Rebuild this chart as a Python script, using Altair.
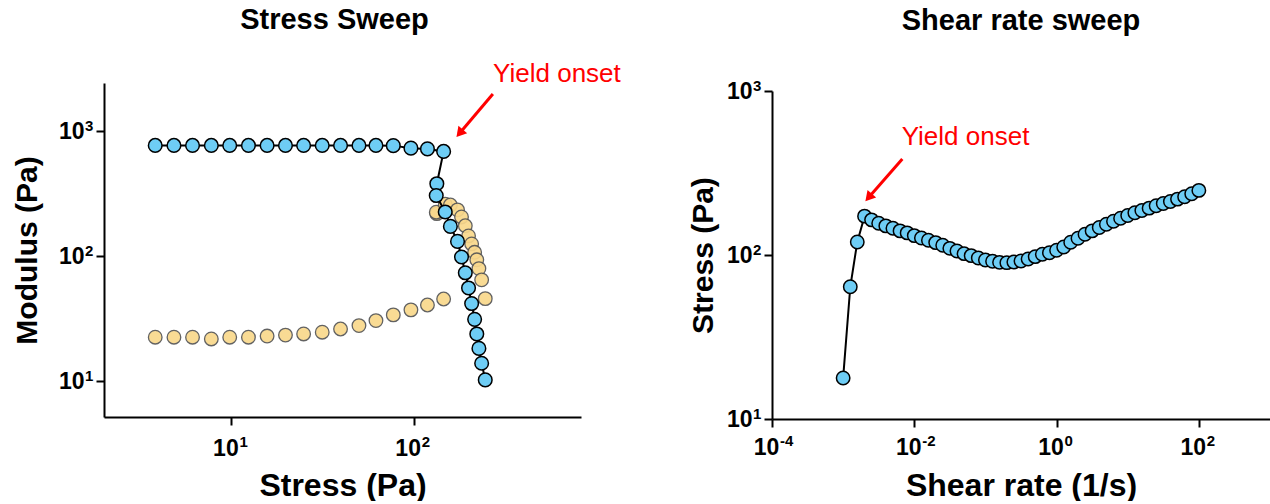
import altair as alt
import pandas as pd

FONT = "Liberation Sans"
BLUE = "#6ECDF5"
TAN = "#F9D88C"
RED = "#FF0000"

# ---------------- Stress sweep (oscillatory) ----------------
osc_stress = [3.82, 4.84, 6.12, 7.76, 9.79, 12.4, 15.7, 19.8, 24.9, 31.5, 39.7,
              50.1, 62.1, 77.3, 96.6, 119, 146,
              134, 133, 149, 159, 174, 183, 192, 200, 208, 216, 222, 228, 236, 247]
g_storage = [773, 773, 773, 773, 773, 773, 773, 773, 773, 773, 773, 773, 773, 770,
             735, 725, 692,
             382, 307, 227, 174, 132, 99, 74, 56, 42, 31.4, 24, 18.4, 14, 10.3]
g_loss = [22.6, 22.6, 22.6, 21.9, 22.6, 22.6, 23.1, 23.5, 24.0, 24.8, 26.3,
          28.0, 30.7, 34.1, 37.4, 40.9, 45.7,
          220, 226, 262, 258, 236, 207, 176, 146, 126, 108, 94, 80, 65, 46]

# ---------------- Shear rate sweep ----------------
shear_rate = [0.001, 0.00126, 0.00158, 0.002, 0.00251, 0.00316, 0.00398, 0.00501,
              0.00631, 0.00794, 0.01, 0.0126, 0.0158, 0.02, 0.0251, 0.0316, 0.0398,
              0.0501, 0.0631, 0.0794, 0.1, 0.126, 0.158, 0.2, 0.251, 0.316, 0.398,
              0.501, 0.631, 0.794, 1, 1.26, 1.58, 2, 2.51, 3.16, 3.98, 5.01, 6.31,
              7.94, 10, 12.6, 15.8, 20, 25.1, 31.6, 39.8, 50.1, 63.1, 79.4, 100]
shear_stress = [17.8, 64, 120, 172.6, 163.8, 156.3, 150.5, 145.6, 140.3, 136.4,
                131.3, 127.1, 122.9, 119.0, 114.6, 109.8, 105.8, 101.9, 99.1, 95.9,
                93.2, 91.5, 90.2, 89.8, 90.6, 91.9, 94.5, 97.7, 101.0, 103.3, 106.8,
                111.9, 119.6, 126.5, 133.8, 140.3, 147.0, 154.1, 160.7, 167.7, 174.1,
                180.8, 186.8, 193.1, 199.5, 206.2, 212.1, 219.2, 226.5, 236.3, 247.7]

# ---------------- Tick labels (10^n) ----------------
left_x_ticks = [10, 100]
left_x_exps = ["1", "2"]
left_y_ticks = [10, 100, 1000]
left_y_exps = ["1", "2", "3"]
right_x_ticks = [0.0001, 0.01, 1, 100]
right_x_exps = ["-4", "-2", "0", "2"]
right_y_ticks = [10, 100, 1000]
right_y_exps = ["1", "2", "3"]

# ---------------- Annotations (data coordinates) ----------------
ann_text = ["Yield onset"]
left_text_pos = [611, 2884]
left_arrow_tail = [272, 1995]
left_arrow_head = [178.7, 966]
right_text_pos = [0.0525, 526]
right_arrow_tail = [0.00679, 385]
right_arrow_head = [0.00228, 224]

LW, LH = 477, 334
RW, RH = 498, 336
R_TOP = 8          # right y-axis starts a little lower than the left one
TICK = 8
LBL = 23
EXP = 15
Y_LBL_PAD = 12
X_SHIFT = -6


def axis(title, values, title_pad, title_size, label_pad, offset=0):
    kw = {}
    if offset:
        kw["labelOffset"] = offset
    return alt.Axis(
        title=title, values=values, labelExpr="'10'", grid=False,
        labelFont=FONT, labelFontSize=LBL, labelFontWeight="bold",
        labelColor="black", titleFont=FONT, titleFontSize=title_size,
        titleFontWeight="bold", titleColor="black", titlePadding=title_pad,
        labelPadding=label_pad, domainColor="black", domainWidth=2,
        tickColor="black", tickWidth=2, tickSize=TICK, labelFlush=False,
        labelOverlap=False, **kw
    )


def exp_layers(xenc, yenc, xt, xe, yt, ye, h, xpad):
    dfx = pd.DataFrame({"x": xt, "e": xe})
    ex = alt.Chart(dfx).mark_text(
        font=FONT, fontSize=EXP, fontWeight="bold", color="black",
        align="left", baseline="top", dx=8
    ).encode(x=xenc, y=alt.value(h + TICK + xpad - 2), text="e:N")
    dfy = pd.DataFrame({"y": yt, "e": ye})
    ey = alt.Chart(dfy).mark_text(
        font=FONT, fontSize=EXP, fontWeight="bold", color="black",
        align="left", baseline="top", dy=-12
    ).encode(x=alt.value(-(TICK + Y_LBL_PAD) + 1), y=yenc, text="e:N")
    return ex, ey


# ---------- left panel ----------
LXPAD = 12
lx = alt.X("x:Q", scale=alt.Scale(type="log", domain=[2, 828], nice=False),
           axis=axis("Stress (Pa)", left_x_ticks, 10, 32, LXPAD, X_SHIFT))
ly = alt.Y("y:Q", scale=alt.Scale(type="log", domain=[5.2, 2440], nice=False),
           axis=axis("Modulus (Pa)", left_y_ticks, 16, 30, Y_LBL_PAD))

df_gp = pd.DataFrame({"x": osc_stress, "y": g_storage, "i": range(len(osc_stress))})
df_gpp = pd.DataFrame({"x": osc_stress, "y": g_loss, "i": range(len(osc_stress))})

l_loss = alt.Chart(df_gpp).mark_circle(
    size=185, fill=TAN, stroke="#555555", strokeWidth=1.3, opacity=0.92
).encode(x=lx, y=ly)
l_line = alt.Chart(df_gp).mark_line(color="black", strokeWidth=2).encode(
    x=lx, y=ly, order="i:Q")
l_stor = alt.Chart(df_gp).mark_circle(
    size=185, fill=BLUE, stroke="black", strokeWidth=1.5, opacity=1
).encode(x=lx, y=ly)

df_la = pd.DataFrame({"x": [left_arrow_tail[0]], "y": [left_arrow_tail[1]],
                      "x2": [left_arrow_head[0]], "y2": [left_arrow_head[1]]})
l_rule = alt.Chart(df_la).mark_rule(color=RED, strokeWidth=3).encode(
    x=lx, y=ly, x2="x2:Q", y2="y2:Q")
df_lh = pd.DataFrame({"x": [left_arrow_head[0]], "y": [left_arrow_head[1]]})
l_head = alt.Chart(df_lh).mark_point(
    shape="triangle-up", filled=True, color=RED, size=130, angle=220, opacity=1
).encode(x=lx, y=ly)
df_lt = pd.DataFrame({"x": [left_text_pos[0]], "y": [left_text_pos[1]], "t": ann_text})
l_text = alt.Chart(df_lt).mark_text(
    color=RED, font=FONT, fontSize=26, align="center", baseline="middle"
).encode(x=lx, y=ly, text="t:N")
l_ex, l_ey = exp_layers(lx, ly, left_x_ticks, left_x_exps, left_y_ticks, left_y_exps,
                        LH, LXPAD)

left = alt.layer(l_loss, l_line, l_stor, l_rule, l_head, l_text, l_ex, l_ey).properties(
    width=LW, height=LH,
    title=alt.TitleParams("Stress Sweep", font=FONT, fontSize=29, fontWeight="bold",
                          color="black", frame="group", dx=-8, offset=26),
)

# ---------- right panel ----------
RXPAD = 9
rx = alt.X("x:Q", scale=alt.Scale(type="log", domain=[0.0001, 1000], nice=False),
           axis=axis("Shear rate (1/s)", right_x_ticks, 11, 32, RXPAD, X_SHIFT))
ry = alt.Y("y:Q", scale=alt.Scale(type="log", domain=[10, 1000], nice=False,
                                  range=[RH, R_TOP]),
           axis=axis("Stress (Pa)", right_y_ticks, 8, 30, Y_LBL_PAD))

df_sr = pd.DataFrame({"x": shear_rate, "y": shear_stress, "i": range(len(shear_rate))})
r_line = alt.Chart(df_sr).mark_line(color="black", strokeWidth=2).encode(
    x=rx, y=ry, order="i:Q")
r_pts = alt.Chart(df_sr).mark_circle(
    size=180, fill=BLUE, stroke="black", strokeWidth=1.5, opacity=1
).encode(x=rx, y=ry)
df_ra = pd.DataFrame({"x": [right_arrow_tail[0]], "y": [right_arrow_tail[1]],
                      "x2": [right_arrow_head[0]], "y2": [right_arrow_head[1]]})
r_rule = alt.Chart(df_ra).mark_rule(color=RED, strokeWidth=3).encode(
    x=rx, y=ry, x2="x2:Q", y2="y2:Q")
df_rh = pd.DataFrame({"x": [right_arrow_head[0]], "y": [right_arrow_head[1]]})
r_head = alt.Chart(df_rh).mark_point(
    shape="triangle-up", filled=True, color=RED, size=130, angle=221, opacity=1
).encode(x=rx, y=ry)
df_rt = pd.DataFrame({"x": [right_text_pos[0]], "y": [right_text_pos[1]], "t": ann_text})
r_text = alt.Chart(df_rt).mark_text(
    color=RED, font=FONT, fontSize=26, align="center", baseline="middle"
).encode(x=rx, y=ry, text="t:N")
r_ex, r_ey = exp_layers(rx, ry, right_x_ticks, right_x_exps, right_y_ticks, right_y_exps,
                        RH, RXPAD)

right = alt.layer(r_line, r_pts, r_rule, r_head, r_text, r_ex, r_ey).properties(
    width=RW, height=RH,
    title=alt.TitleParams("Shear rate sweep", font=FONT, fontSize=29, fontWeight="bold",
                          color="black", frame="group", offset=43),
)

chart = alt.hconcat(left, right, spacing=67).properties(
    padding={"left": 12, "top": 5, "right": 0, "bottom": 0}, background="white"
).configure_view(stroke=None)

chart.save("out.html", embed_options={"renderer": "svg", "actions": False})
